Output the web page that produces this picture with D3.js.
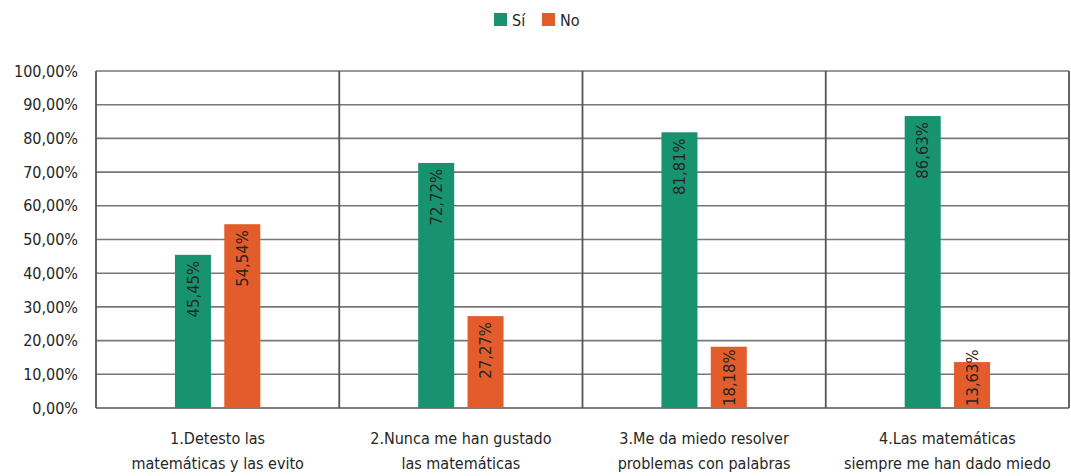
<!DOCTYPE html>
<html>
<head>
<meta charset="utf-8">
<script src="https://cdn.jsdelivr.net/npm/d3@7"></script>
<style>
  body { margin: 0; background: #fff; }
  text { font-family: "Liberation Sans Narrow", "DejaVu Sans Condensed", "Roboto Condensed", sans-serif; fill: #262626; }
</style>
</head>
<body>
<svg id="chart" width="1071" height="476"></svg>
<script>
let categories = [
  ["1.Detesto las", "matemáticas y las evito"],
  ["2.Nunca me han gustado", "las matemáticas"],
  ["3.Me da miedo resolver", "problemas con palabras"],
  ["4.Las matemáticas", "siempre me han dado miedo"]
];
let series = ["Sí", "No"];
let siValues = [45.45, 72.72, 81.81, 86.63];
let noValues = [54.54, 27.27, 18.18, 13.63];
let yTicks = [0, 10, 20, 30, 40, 50, 60, 70, 80, 90, 100];
let colors = { "Sí": "#17946f", "No": "#e35c2c" };

let plotLeft = 96, plotRight = 1069, plotTop = 71, plotBottom = 408;

const locale = d3.formatLocale({ decimal: ",", thousands: ".", grouping: [3], currency: ["", "€"] });
const fmt = locale.format(".2f");

const svg = d3.select("#chart");

const x0 = d3.scaleBand()
  .domain(d3.range(categories.length))
  .range([plotLeft, plotRight])
  .padding(0);

const x1 = d3.scaleBand()
  .domain(series)
  .range([0, x0.bandwidth()])
  .paddingInner(0.27)
  .paddingOuter(1.6);

const y = d3.scaleLinear().domain([0, 100]).range([plotBottom, plotTop]);

// horizontal gridlines
svg.append("g")
  .selectAll("line")
  .data(yTicks)
  .enter()
  .append("line")
  .attr("x1", plotLeft)
  .attr("x2", plotRight)
  .attr("y1", d => y(d))
  .attr("y2", d => y(d))
  .style("stroke", d => d === 0 ? "#555" : "#777")
  .style("stroke-width", "1.6px");

// vertical dividers
svg.append("g")
  .selectAll("line")
  .data(d3.range(categories.length + 1))
  .enter()
  .append("line")
  .attr("x1", d => d < categories.length ? x0(d) : plotRight)
  .attr("x2", d => d < categories.length ? x0(d) : plotRight)
  .attr("y1", plotTop)
  .attr("y2", plotBottom)
  .style("stroke", "#555")
  .style("stroke-width", "1.8px");

// y tick labels
svg.append("g")
  .selectAll("text")
  .data(yTicks)
  .enter()
  .append("text")
  .attr("x", 78)
  .attr("y", d => y(d))
  .attr("dy", "0.35em")
  .attr("text-anchor", "end")
  .style("font-size", "16px")
  .text(d => fmt(d) + "%");

// bars
const rows = [];
categories.forEach((c, i) => {
  rows.push({ cat: i, s: "Sí", v: siValues[i] });
  rows.push({ cat: i, s: "No", v: noValues[i] });
});

svg.append("g")
  .selectAll("rect")
  .data(rows)
  .enter()
  .append("rect")
  .attr("x", d => x0(d.cat) + x1(d.s))
  .attr("y", d => y(d.v))
  .attr("width", x1.bandwidth())
  .attr("height", d => plotBottom - y(d.v))
  .style("fill", d => colors[d.s]);

// value labels, rotated inside bar tops
const labels = svg.append("g")
  .selectAll("text")
  .data(rows)
  .enter()
  .append("text")
  .style("font-size", "16.5px")
  .attr("text-anchor", "end")
  .text(d => fmt(d.v) + "%");

labels.each(function (d) {
  const len = this.getComputedTextLength();
  let topY = y(d.v) + 6;
  if (topY + len > plotBottom - 2) topY = plotBottom - 2 - len;
  const cx = x0(d.cat) + x1(d.s) + x1.bandwidth() / 2;
  d3.select(this)
    .attr("transform", "translate(" + cx + "," + topY + ") rotate(-90)")
    .attr("dy", "0.35em");
});

// category labels
const catG = svg.append("g")
  .selectAll("text")
  .data(categories)
  .enter()
  .append("text")
  .attr("text-anchor", "middle")
  .style("font-size", "16px")
  .attr("x", (d, i) => x0(i) + x0.bandwidth() / 2)
  .attr("y", 444);

catG.selectAll("tspan")
  .data(d => d)
  .enter()
  .append("tspan")
  .attr("x", function () { return d3.select(this.parentNode).attr("x"); })
  .attr("dy", (d, i) => i === 0 ? 0 : 25)
  .text(d => d);

// legend
const legend = svg.append("g");
const legendX = [494, 542];
series.forEach((s, i) => {
  legend.append("rect")
    .attr("x", legendX[i])
    .attr("y", 13)
    .attr("width", 13)
    .attr("height", 13)
    .style("fill", colors[s]);
  legend.append("text")
    .attr("x", legendX[i] + 18)
    .attr("y", 20)
    .attr("dy", "0.35em")
    .style("font-size", "16px")
    .text(s);
});
</script>
</body>
</html>
